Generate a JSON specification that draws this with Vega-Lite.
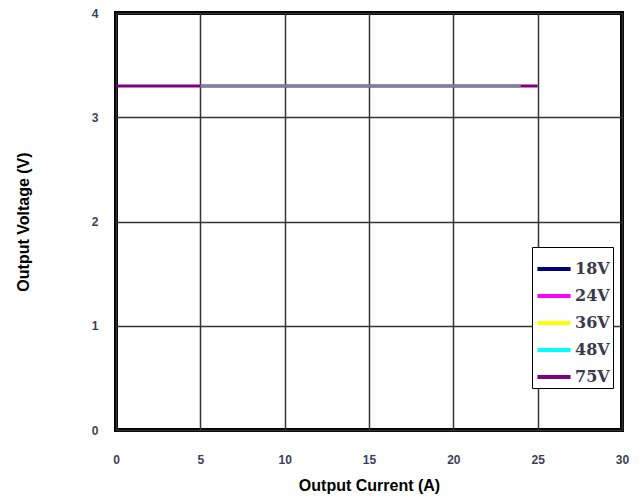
{
  "$schema": "https://vega.github.io/schema/vega-lite/v6.json",
  "width": 506,
  "height": 417,
  "autosize": "none",
  "padding": {"left": 116, "top": 13, "right": 20, "bottom": 68},
  "background": "white",
  "config": {
    "view": {"stroke": "black", "strokeWidth": 4},
    "axis": {
      "grid": true,
      "gridColor": "#333333",
      "gridWidth": 1.5,
      "gridOpacity": 1,
      "domain": false,
      "ticks": false,
      "labelFont": "Liberation Sans",
      "labelFontSize": 12,
      "labelFontWeight": "bold",
      "labelColor": "#3a3f55",
      "titleFont": "Liberation Sans",
      "titleFontSize": 16,
      "titleFontWeight": "bold",
      "titleColor": "black"
    }
  },
  "data": {
    "values": [
      {"series": "75V", "current": 0, "voltage": 3.3},
      {"series": "75V", "current": 25, "voltage": 3.3},
      {"series": "18V", "current": 5, "voltage": 3.3},
      {"series": "18V", "current": 24, "voltage": 3.3},
      {"series": "24V", "current": 5, "voltage": 3.3},
      {"series": "24V", "current": 24, "voltage": 3.3},
      {"series": "36V", "current": 5, "voltage": 3.3},
      {"series": "36V", "current": 24, "voltage": 3.3},
      {"series": "48V", "current": 5, "voltage": 3.3},
      {"series": "48V", "current": 24, "voltage": 3.3}
    ]
  },
  "encoding": {
    "x": {
      "field": "current",
      "type": "quantitative",
      "scale": {"domain": [0, 30], "nice": false},
      "axis": {"values": [0, 5, 10, 15, 20, 25, 30], "title": "Output Current (A)", "labelPadding": 24, "titlePadding": 12, "labelFlush": false}
    },
    "y": {
      "field": "voltage",
      "type": "quantitative",
      "scale": {"domain": [0, 4], "nice": false},
      "axis": {"values": [0, 1, 2, 3, 4], "title": "Output Voltage (V)", "labelPadding": 18, "titlePadding": 60, "labelFlush": false}
    },
    "color": {
      "field": "series",
      "type": "nominal",
      "scale": {
        "domain": ["18V", "24V", "36V", "48V", "75V"],
        "range": ["#000080", "#FF00FF", "#FFFF00", "#00FFFF", "#800080"]
      },
      "legend": {
        "title": null,
        "orient": "none",
        "legendX": 416,
        "legendY": 234,
        "symbolType": "stroke",
        "symbolStrokeWidth": 4,
        "symbolSize": 1100,
        "symbolOpacity": 1,
        "labelFont": "DejaVu Serif",
        "labelFontSize": 16,
        "labelFontWeight": "bold",
        "labelColor": "#3a3a4a",
        "labelOffset": 2,
        "rowPadding": 0,
        "padding": 3,
        "strokeColor": "black",
        "fillColor": "white"
      }
    }
  },
  "layer": [
    {
      "transform": [{"filter": "datum.series === '75V'"}],
      "mark": {"type": "line", "strokeWidth": 3}
    },
    {
      "transform": [{"filter": "datum.series !== '75V'"}],
      "mark": {"type": "line", "strokeWidth": 3, "opacity": 0.3}
    }
  ]
}
